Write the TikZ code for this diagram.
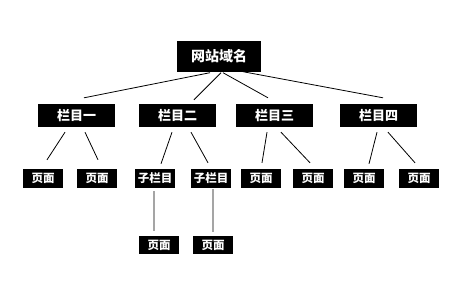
\documentclass[tikz,border=0pt]{standalone}
\usepackage{fontspec}
\newfontfamily\cjk{Noto Sans CJK SC}
\usetikzlibrary{positioning,calc}
\tikzset{
  site/.style  = {rectangle, fill=black, text=white, inner sep=0pt,
                  minimum width=84bp, minimum height=31bp, font=\cjk\bfseries\fontsize{14bp}{16bp}\selectfont},
  col/.style   = {rectangle, fill=black, text=white, inner sep=0pt,
                  minimum width=77bp, minimum height=23bp, font=\cjk\bfseries\fontsize{13bp}{15bp}\selectfont},
  page/.style  = {rectangle, fill=black, text=white, inner sep=0pt,
                  minimum width=40bp, minimum height=19bp, font=\cjk\bfseries\fontsize{11.5bp}{13bp}\selectfont},
  link/.style  = {draw=black, line width=0.8bp},
}
\begin{document}
\begin{tikzpicture}[x=1bp, y=-1bp]
  \useasboundingbox[fill=white] (0,0) rectangle (456,290);
  % root and columns
  \node[site] (root) at (219,56) {网站域名};
  \node[col] (colA) at (76.5,115.5) {栏目一};
  \node[col] (colB) at (177.5,115.5) {栏目二};
  \node[col] (colC) at (274.5,115.5) {栏目三};
  \node[col] (colD) at (378.5,115.5) {栏目四};
  % second level
  \node[page] (pgA1) at (43,178.5) {页面};
  \node[page] (pgA2) at (97,178.5) {页面};
  \node[page] (subB1) at (155,178.5) {子栏目};
  \node[page] (subB2) at (211,178.5) {子栏目};
  \node[page] (pgC1) at (261,178.5) {页面};
  \node[page] (pgC2) at (313,178.5) {页面};
  \node[page] (pgD1) at (364,178.5) {页面};
  \node[page] (pgD2) at (419,178.5) {页面};
  % third level
  \node[page, minimum height=18bp] (pgB1) at (159,245) {页面};
  \node[page, minimum height=18bp] (pgB2) at (213,245) {页面};
  % root to columns
  \draw[link] ([shift={(-9bp,-1bp)}]root.south) -- ([shift={(7.5bp,6bp)}]colA.north);
  \draw[link] ([shift={(2bp,-1bp)}]root.south) -- ([shift={(16.5bp,4bp)}]colB.north);
  \draw[link] ([shift={(4bp,-1bp)}]root.south) -- ([shift={(-6.5bp,6bp)}]colC.north);
  \draw[link] ([shift={(24bp,0bp)}]root.south) -- ([shift={(4.5bp,6bp)}]colD.north);
  % columns to second level
  \draw[link] ([shift={(-11.5bp,-5bp)}]colA.south) -- ([shift={(4bp,9bp)}]pgA1.north);
  \draw[link] ([shift={(8.5bp,-5bp)}]colA.south) -- ([shift={(1bp,9bp)}]pgA2.north);
  \draw[link] ([shift={(-5.5bp,-5bp)}]colB.south) -- ([shift={(6bp,5bp)}]subB1.north);
  \draw[link] ([shift={(13.5bp,-5bp)}]colB.south) -- ([shift={(-3bp,6bp)}]subB2.north);
  \draw[link] ([shift={(-7.5bp,-5bp)}]colC.south) -- ([shift={(1bp,6bp)}]pgC1.north);
  \draw[link] ([shift={(6.5bp,-5bp)}]colC.south) -- ([shift={(-3bp,6bp)}]pgC2.north);
  \draw[link] ([shift={(-1.5bp,-5bp)}]colD.south) -- ([shift={(5bp,5bp)}]pgD1.north);
  \draw[link] ([shift={(9.5bp,-5bp)}]colD.south) -- ([shift={(-4bp,6bp)}]pgD2.north);
  % sub columns to pages
  \draw[link] ([shift={(-1bp,-3bp)}]subB1.south) -- ([shift={(-5bp,5bp)}]pgB1.north);
  \draw[link] ([shift={(2bp,-1bp)}]subB2.south) -- ([shift={(0bp,4bp)}]pgB2.north);
\end{tikzpicture}
\end{document}
